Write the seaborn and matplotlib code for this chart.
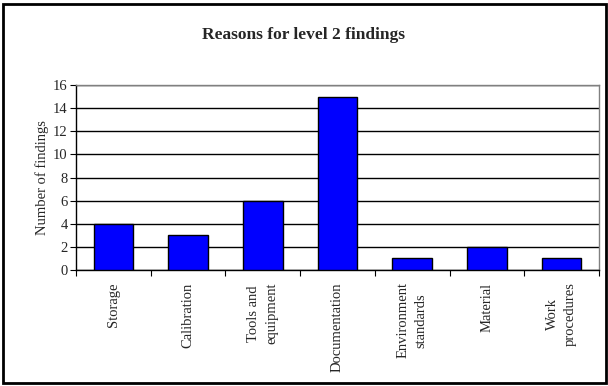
import matplotlib
matplotlib.use("Agg")
import matplotlib.pyplot as plt
import seaborn as sns
import pandas as pd
from matplotlib.patches import Rectangle

categories = ["Storage", "Calibration", "Tools and\nequipment", "Documentation",
              "Environment\nstandards", "Material", "Work\nprocedures"]
findings = [4, 3, 6, 15, 1, 2, 1]
y_ticks = [0, 2, 4, 6, 8, 10, 12, 14, 16]

sns.set_theme(style="white")
plt.rcParams["font.family"] = ["Liberation Serif", "DejaVu Serif"]

df = pd.DataFrame({"reason": categories, "count": findings})

fig = plt.figure(figsize=(6.08, 3.86), dpi=100)
ax = fig.add_axes([76 / 608, 1 - 270 / 386, (599 - 76) / 608, (270 - 85) / 386])

sns.barplot(data=df, x="reason", y="count", ax=ax, color="#0000FF",
            saturation=1, width=0.53, edgecolor="black", linewidth=1, zorder=3)

ax.set_ylim(0, 16)
ax.set_yticks(y_ticks)
ax.set_xlim(-0.5, len(categories) - 0.5)
ax.yaxis.grid(True, color="black", linewidth=1, zorder=0)
ax.set_axisbelow(True)

# category tick marks sit on the boundaries between bars
ax.set_xticks([i - 0.5 for i in range(len(categories) + 1)], minor=True)
ax.tick_params(axis="x", which="minor", length=4, width=0.8, color="black", bottom=True)
ax.tick_params(axis="x", which="major", length=0, pad=9)
ax.tick_params(axis="y", length=4, width=0.8, color="black", left=True, labelsize=10.5, pad=2)
ax.set_xticks(range(len(categories)))
ax.set_xticklabels(categories, rotation=90, fontsize=10.5, va="top", ha="center",
                   multialignment="center", linespacing=1.5)

for side in ["top", "right"]:
    ax.spines[side].set_color("#808080")
    ax.spines[side].set_linewidth(1)
for side in ["left", "bottom"]:
    ax.spines[side].set_color("black")
    ax.spines[side].set_linewidth(1)

ax.set_xlabel("")
ax.set_ylabel("Number of findings", fontsize=10.5, labelpad=3)

fig.text(303 / 608, 1 - 35 / 386, "Reasons for level 2 findings", ha="center",
         va="center", fontsize=12.5, fontweight="bold")

# outer chart frame
fig.patches.append(Rectangle((3 / 608, 3 / 386), 603 / 608, 379 / 386,
                             transform=fig.transFigure, fill=False,
                             edgecolor="black", linewidth=2))

fig.savefig("out.png", dpi=100)
